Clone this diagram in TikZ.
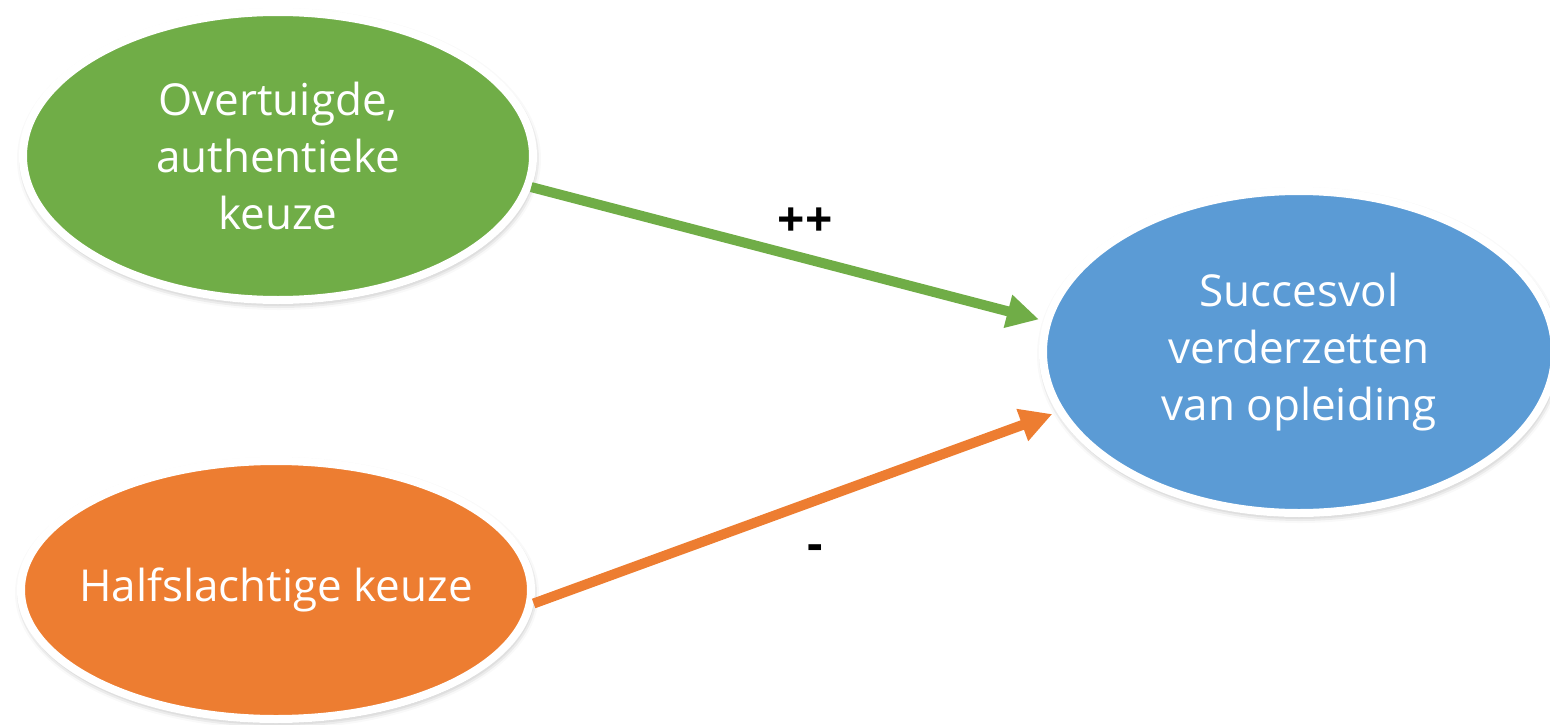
\documentclass[tikz,border=0pt]{standalone}
\usepackage{fontspec}
\setmainfont{Open Sans}
\usetikzlibrary{shapes.geometric,arrows.meta,shadows.blur}
\definecolor{cgreen}{HTML}{70AD47}
\definecolor{corange}{HTML}{ED7D31}
\definecolor{cblue}{HTML}{5B9BD5}
\tikzset{
  oval/.style={ellipse, draw=white, line width=8pt, inner sep=0pt,
    blur shadow={shadow xshift=1pt, shadow yshift=-3pt, shadow blur radius=7pt, shadow opacity=40}},
  ovaltext/.style={text=white, align=center, font=\fontsize{44}{57}\selectfont},
  arr/.style={line width=10pt, -{Triangle[length=32pt, width=32pt]}, shorten >=5pt},
  sign/.style={font=\fontsize{48}{52}\bfseries\selectfont, text=black}
}
\begin{document}
\begin{tikzpicture}[x=1pt, y=-1pt]
\useasboundingbox (0,0) rectangle (1550,725);
\node[oval, fill=cgreen, minimum width=510pt, minimum height=288pt] (ovt) at (278,156) {};
\node[oval, fill=corange, minimum width=510pt, minimum height=258pt] (half) at (276,590) {};
\node[oval, fill=cblue, minimum width=512pt, minimum height=322pt] (succ) at (1299,352) {};
\node[ovaltext] (ovtt) at (ovt) {Overtuigde,\\authentieke\\keuze};
\node[ovaltext] (halft) at (half) {Halfslachtige keuze};
\node[ovaltext] (succt) at (succ) {Succesvol\\verderzetten\\van opleiding};
\draw[arr, draw=cgreen, fill=cgreen] (ovt.-7) -- (succ.173);
\draw[arr, draw=corange, fill=corange] (half.-3) -- (succ.-166);
\node[sign] (pp) at (805,222) {++};
\node[sign] (mm) at (815,553) {-};
\end{tikzpicture}
\end{document}
